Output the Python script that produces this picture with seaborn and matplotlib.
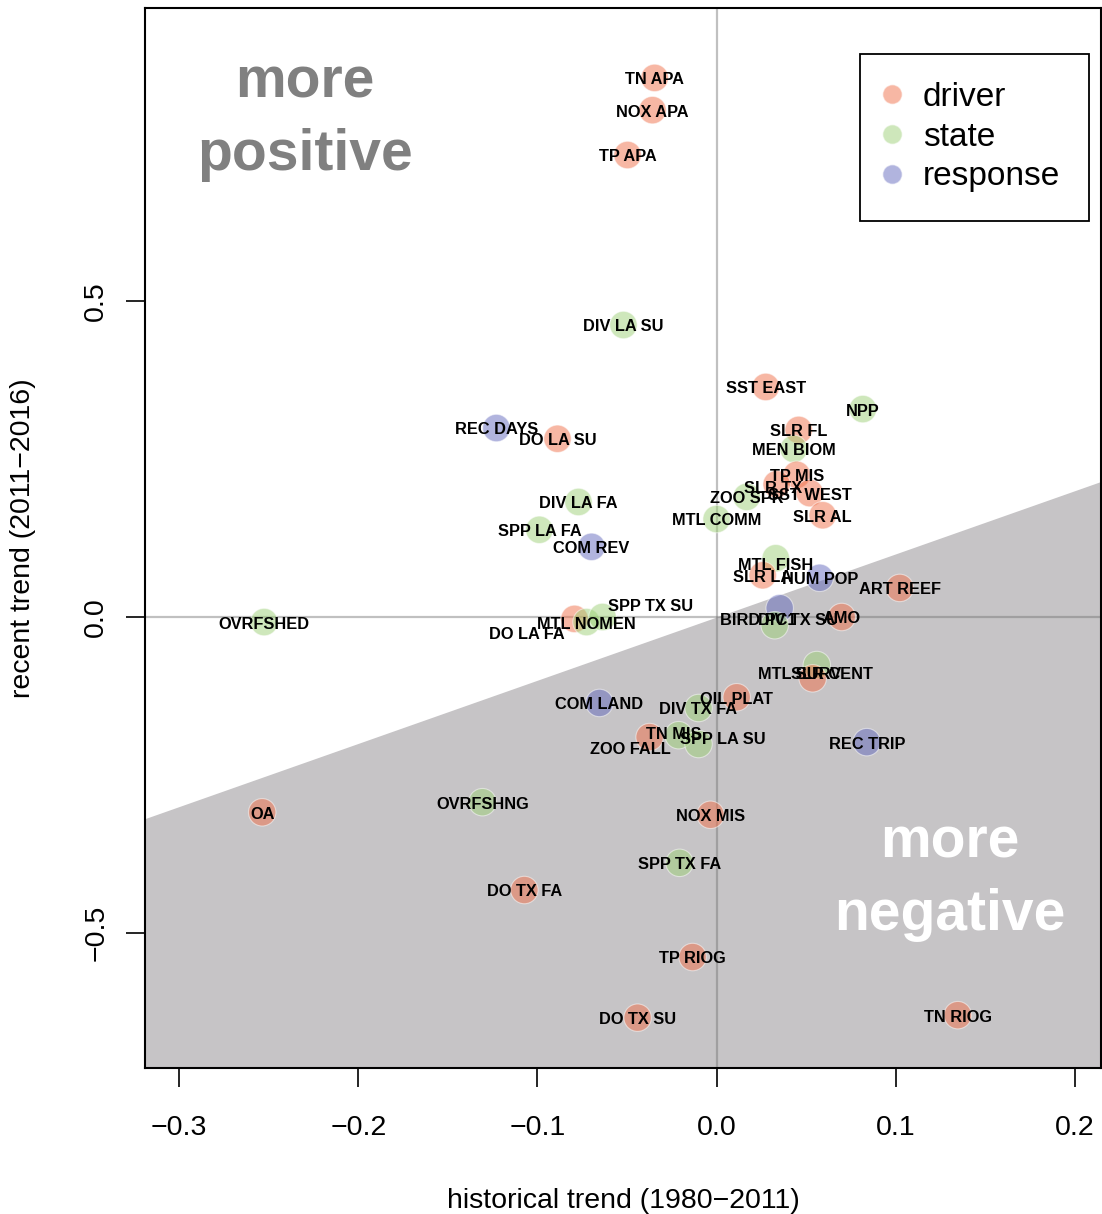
import numpy as np
import pandas as pd
import matplotlib
matplotlib.use("Agg")
import matplotlib.pyplot as plt
from matplotlib.lines import Line2D
import seaborn as sns

# Indicator trends: historical (1980-2011) vs recent (2011-2016)
names = [
    "TN APA", "NOX APA", "TP APA", "DIV LA SU", "SST EAST", "NPP", "REC DAYS",
    "DO LA SU", "SLR FL", "MEN BIOM", "TP MIS", "SLR TX", "SST WEST", "SLR AL",
    "ZOO SPR", "MTL COMM", "DIV LA FA", "SPP LA FA", "COM REV", "MTL FISH",
    "SLR LA", "HUM POP", "ART REEF", "BIRD PC1", "DIV TX SU", "AMO", "OVRFSHED",
    "DO LA FA", "MTL NOMEN", "SPP TX SU", "MTL SURV", "SLR CENT", "COM LAND",
    "OIL PLAT", "DIV TX FA", "TN MIS", "ZOO FALL", "SPP LA SU", "REC TRIP", "OA",
    "OVRFSHNG", "NOX MIS", "SPP TX FA", "DO TX FA", "TP RIOG", "DO TX SU", "TN RIOG",
]
category = [
    "driver", "driver", "driver", "state", "driver", "state", "response",
    "driver", "driver", "state", "driver", "driver", "driver", "driver",
    "state", "state", "state", "state", "response", "state",
    "driver", "response", "driver", "response", "state", "driver", "state",
    "driver", "state", "state", "state", "driver", "response",
    "driver", "state", "driver", "state", "state", "response", "driver",
    "state", "driver", "state", "driver", "driver", "driver", "driver",
]
hist_trend = [
    -0.0346, -0.0358, -0.0497, -0.0520, 0.0274, 0.0816, -0.1229,
    -0.0888, 0.0458, 0.0430, 0.0447, 0.0335, 0.0520, 0.0592,
    0.0168, 0.0000, -0.0771, -0.0989, -0.0698, 0.0330,
    0.0257, 0.0575, 0.1022, 0.0352, 0.0324, 0.0698, -0.2525,
    -0.0793, -0.0726, -0.0637, 0.0559, 0.0536, -0.0654,
    0.0112, -0.0101, -0.0374, -0.0212, -0.0101, 0.0838, -0.2536,
    -0.1307, -0.0034, -0.0207, -0.1073, -0.0134, -0.0441, 0.1346,
]
recent_trend = [
    0.853, 0.802, 0.731, 0.462, 0.364, 0.329, 0.299,
    0.282, 0.296, 0.266, 0.225, 0.210, 0.196, 0.161,
    0.190, 0.155, 0.182, 0.138, 0.111, 0.093,
    0.066, 0.062, 0.046, 0.014, -0.013, 0.000, -0.008,
    -0.003, -0.008, 0.000, -0.076, -0.097, -0.136,
    -0.127, -0.144, -0.190, -0.187, -0.201, -0.198, -0.309,
    -0.293, -0.313, -0.389, -0.432, -0.538, -0.634, -0.630,
]
# labels nudged away from crowded points (data units)
label_shift = {
    "SLR TX": (-0.0022, -0.003),
    "MTL FISH": (0.0, -0.008),
    "BIRD PC1": (-0.0117, -0.017),
    "DIV TX SU": (0.0129, 0.010),
    "DO LA FA": (-0.0268, -0.022),
    "SPP TX SU": (0.0268, 0.019),
    "MTL SURV": (-0.0095, -0.0126),
    "SLR CENT": (0.0106, 0.0084),
    "TN MIS": (0.0134, 0.0065),
    "ZOO FALL": (-0.0268, -0.020),
    "SPP LA SU": (0.0135, 0.010),
}
cat_order = ["driver", "state", "response"]
cat_colors = {"driver": "#F0704A", "state": "#9ED078", "response": "#646ABE"}

sns.set_style("ticks")
plt.rcParams["font.family"] = ["Liberation Sans", "DejaVu Sans"]
plt.rcParams["text.color"] = "black"
plt.rcParams["axes.labelcolor"] = "black"

df = pd.DataFrame({"name": names, "category": category,
                   "hist": hist_trend, "recent": recent_trend})

fig = plt.figure(figsize=(11.02, 12.14), dpi=100)
ax = fig.add_axes([145 / 1102, 1 - 1068 / 1214, (1101 - 145) / 1102, (1068 - 8) / 1214])
xlim = (-0.3190, 0.2145)
ylim = (-0.7136, 0.9636)
ax.set_xlim(xlim)
ax.set_ylim(ylim)

# shaded half-plane below the 1:1 line
xs = np.array(xlim)
ax.fill_between(xs, xs, ylim[0], color="#C6C4C6", lw=0, zorder=0)
ax.axhline(0, color=(0.44, 0.44, 0.44, 0.44), lw=1.6, zorder=1)
ax.axvline(0, color=(0.44, 0.44, 0.44, 0.44), lw=1.6, zorder=1)

sns.scatterplot(data=df, x="hist", y="recent", hue="category", hue_order=cat_order,
                palette=cat_colors, alpha=0.5, s=390, edgecolor=(1, 1, 1, 0.6),
                linewidth=0.8, legend=False, ax=ax, zorder=2)

for n, xv, yv in zip(names, hist_trend, recent_trend):
    dx, dy = label_shift.get(n, (0.0, 0.0))
    ax.annotate(n, (xv + dx, yv + dy), xytext=(0, -1.4), textcoords="offset points",
                ha="center", va="center", fontsize=11.8, fontweight="bold",
                color="black", zorder=3)

big = dict(transform=ax.transAxes, ha="center", va="center", fontsize=41,
           fontweight="bold")
ax.text(0.167, 0.9295, "more", color="#808080", **big)
ax.text(0.167, 0.8615, "positive", color="#808080", **big)
ax.text(0.842, 0.2125, "more", color="white", **big)
ax.text(0.842, 0.1445, "negative", color="white", **big)

ax.set_xticks([-0.3, -0.2, -0.1, 0.0, 0.1, 0.2])
ax.set_yticks([-0.5, 0.0, 0.5])
ax.tick_params(axis="both", direction="out", length=13.7, width=1.2, colors="black",
               labelcolor="black", labelsize=20.5, bottom=True, left=True)
ax.tick_params(axis="x", pad=20)
ax.tick_params(axis="y", pad=12)
plt.setp(ax.get_yticklabels(), rotation=90, va="center")
for sp in ax.spines.values():
    sp.set_visible(True)
    sp.set_color("black")
    sp.set_linewidth(1.5)

ax.set_xlabel("historical trend (1980\u22122011)", fontsize=20.5, labelpad=34, color="black")
ax.set_ylabel("recent trend (2011\u22122016)", fontsize=20.5, labelpad=34, color="black")

handles = [Line2D([0], [0], marker="o", linestyle="", markersize=14,
                  markerfacecolor=cat_colors[c], markeredgecolor=(1, 1, 1, 0.6),
                  alpha=0.5, label=c) for c in cat_order]
leg = ax.legend(handles=handles, loc="upper left", bbox_to_anchor=(0.748, 0.957),
                borderaxespad=0, fontsize=24, frameon=True, fancybox=False,
                framealpha=1, edgecolor="black", borderpad=0.85, handlelength=0.2,
                handletextpad=0.84, labelspacing=0.26)
leg.get_frame().set_linewidth(1.3)

fig.savefig("out.png", dpi=100)
